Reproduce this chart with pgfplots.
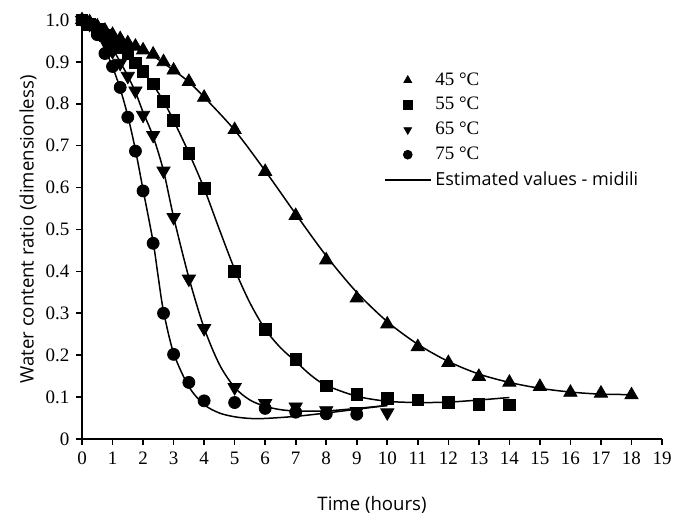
\documentclass[border=0pt]{standalone}
\usepackage{pgfplots}
\pgfplotsset{compat=1.18}
\usepackage{fontspec}
\setmainfont{Liberation Serif}
\setsansfont{Open Sans}

\pgfplotsset{
  markleg/.code={\pgfplotsset{legend image code/.code={\draw[mark repeat=2,mark phase=2,mark size=2.2pt,##1]
    plot coordinates {(0cm,0cm)(0.4cm,0cm)(0.8cm,0cm)};}}},
  lineleg/.code={\pgfplotsset{legend image code/.code={\draw[##1] (0cm,0cm) -- (0.8cm,0cm);}}},
}

% measured drying data (water content ratio vs time)
\pgfplotstableread{
t v
0 1.000
0.25 0.995
0.5 0.985
0.75 0.975
1 0.965
1.25 0.955
1.5 0.945
1.75 0.937
2 0.928
2.33 0.918
2.67 0.900
3 0.880
3.5 0.853
4 0.815
5 0.738
6 0.638
7 0.533
8 0.427
9 0.336
10 0.274
11 0.220
12 0.182
13 0.149
14 0.135
15 0.125
16 0.111
17 0.109
18 0.105
}\dataA
\pgfplotstableread{
t v
0 1.000
0.25 0.990
0.5 0.978
0.75 0.963
1 0.950
1.25 0.935
1.5 0.920
1.75 0.898
2 0.877
2.33 0.847
2.67 0.806
3 0.760
3.5 0.682
4 0.598
5 0.400
6 0.262
7 0.190
8 0.127
9 0.107
10 0.097
11 0.093
12 0.087
13 0.083
14 0.081
}\dataB
\pgfplotstableread{
t v
0 1.000
0.25 0.990
0.5 0.972
0.75 0.950
1 0.925
1.25 0.897
1.5 0.866
1.75 0.831
2 0.773
2.33 0.725
2.67 0.640
3 0.529
3.5 0.382
4 0.264
5 0.123
6 0.085
7 0.077
8 0.068
9 0.066
10 0.063
}\dataC
\pgfplotstableread{
t v
0 1.000
0.25 0.990
0.5 0.965
0.75 0.920
1 0.889
1.25 0.839
1.5 0.768
1.75 0.687
2 0.592
2.33 0.467
2.67 0.300
3 0.202
3.5 0.135
4 0.091
5 0.087
6 0.073
7 0.064
8 0.060
9 0.059
}\dataD

% fitted curves (Midilli model)
\pgfplotstableread{
t v
0 1.000
1 0.967
2 0.930
3 0.880
3.5 0.852
4 0.816
5 0.737
6 0.640
7 0.537
8 0.437
9 0.350
10 0.280
11 0.226
12 0.185
13 0.155
14 0.135
15 0.121
16 0.112
17 0.107
18 0.106
}\fitA
\pgfplotstableread{
t v
0 1.000
0.5 0.985
1 0.955
1.5 0.918
2 0.877
2.33 0.845
2.67 0.806
3 0.760
3.5 0.683
4 0.598
4.5 0.500
5 0.405
5.5 0.325
6 0.262
6.5 0.218
7 0.185
7.5 0.152
8 0.128
9 0.102
10 0.090
11 0.087
12 0.088
13 0.093
14 0.099
}\fitB
\pgfplotstableread{
t v
0 1.000
0.5 0.975
1 0.930
1.25 0.900
1.5 0.866
1.75 0.828
2 0.780
2.33 0.722
2.67 0.640
3 0.530
3.5 0.385
4 0.265
4.5 0.178
5 0.123
5.5 0.093
6 0.078
6.5 0.070
7 0.067
8 0.067
9 0.073
10 0.080
}\fitC
\pgfplotstableread{
t v
0 1.000
0.25 0.990
0.5 0.965
0.75 0.930
1 0.888
1.25 0.836
1.5 0.771
1.75 0.690
2 0.595
2.33 0.470
2.5 0.385
2.67 0.305
3 0.205
3.5 0.125
4 0.082
4.5 0.062
5 0.053
5.5 0.049
6 0.049
7 0.054
8 0.062
9 0.071
10 0.080
}\fitD

\begin{document}
\begin{tikzpicture}
\begin{axis}[
  scale only axis,
  width=290pt, height=209.5pt,
  xmin=0, xmax=19, ymin=0, ymax=1,
  clip=false,
  axis lines=left,
  axis line style={-, line width=0.8pt},
  tick align=outside,
  major tick length=2.8pt,
  tick style={black, line width=0.8pt},
  xtick={0,1,...,19},
  ytick={0,0.1,0.2,0.3,0.4,0.5,0.6,0.7,0.8,0.9,1.0},
  yticklabels={0,0.1,0.2,0.3,0.4,0.5,0.6,0.7,0.8,0.9,1.0},
  /pgf/number format/assume math mode=true,
  tick label style={font=\fontsize{9.5}{11}\selectfont},
  xlabel={Time (hours)},
  ylabel={Water content ratio (dimensionless)},
  every axis x label/.style={at={(axis description cs:0.5,-0.158)}, anchor=center,
    font=\sffamily\fontsize{9.3}{11}\selectfont},
  every axis y label/.style={at={(axis description cs:-0.093,0.5)}, rotate=90, anchor=center,
    font=\sffamily\fontsize{9.3}{11}\selectfont},
  legend style={at={(axis description cs:0.51,0.895)}, anchor=north west,
    draw=none, fill=none, font=\fontsize{9.5}{13}\selectfont, row sep=0.6pt},
  legend cell align=left,
]
\addplot[only marks, mark=triangle*, mark size=3.8pt, black, markleg] table {\dataA};
\addlegendentry{45 °C}
\addplot[only marks, mark=square*, mark size=2.9pt, black, markleg] table {\dataB};
\addlegendentry{55 °C}
\addplot[only marks, mark=triangle*, mark options={rotate=180}, mark size=3.8pt, black, markleg] table {\dataC};
\addlegendentry{65 °C}
\addplot[only marks, mark=*, mark size=3pt, black, markleg] table {\dataD};
\addlegendentry{75 °C}
\addlegendimage{black, line width=0.8pt, lineleg}
\addlegendentry{\sffamily\fontsize{9}{13}\selectfont Estimated values - midili}

\addplot[black, line width=0.75pt, smooth, no markers, forget plot] table {\fitA};
\addplot[black, line width=0.75pt, smooth, no markers, forget plot] table {\fitB};
\addplot[black, line width=0.75pt, smooth, no markers, forget plot] table {\fitC};
\addplot[black, line width=0.75pt, smooth, no markers, forget plot] table {\fitD};

\path (rel axis cs:-0.1414,-0.1814) rectangle (rel axis cs:1.0448,1.0477);
\end{axis}
\end{tikzpicture}
\end{document}
